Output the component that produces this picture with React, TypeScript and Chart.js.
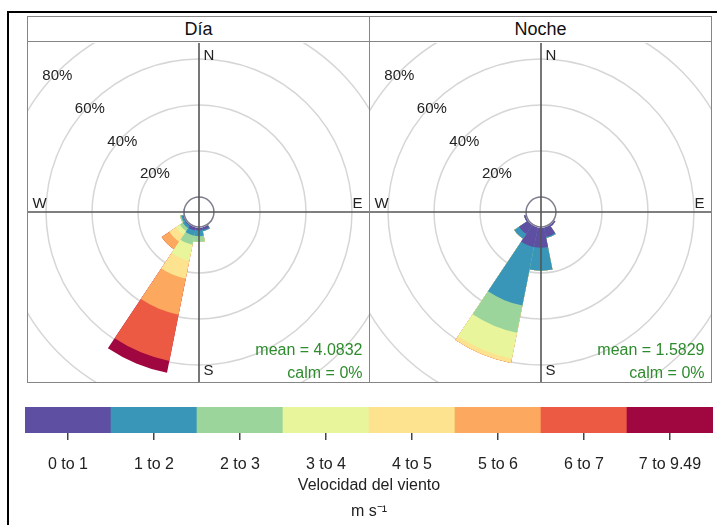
import React, { useEffect, useRef } from "react";
import { Chart, registerables } from "chart.js";

Chart.register(...registerables);

const FONT = '"Liberation Sans", Arial, Helvetica, sans-serif';

// 16 direction sectors of 22.5°, starting at North and going clockwise
const DIRECTION_LABELS = ["N", "NNE", "NE", "ENE", "E", "ESE", "SE", "SSE", "S", "SSW", "SW", "WSW", "W", "WNW", "NW", "NNW"];
const SECTOR_WIDTH = 22.5;

const SPEED_BINS = ["0 to 1", "1 to 2", "2 to 3", "3 to 4", "4 to 5", "5 to 6", "6 to 7", "7 to 9.49"];
const BIN_COLORS = ["#5E4FA2", "#3A96B8", "#9BD59B", "#E8F59B", "#FDE38F", "#FCA85F", "#EC5A44", "#A0063F"];
const COLORBAR_SEGMENTS = [1, 1, 1, 1, 1, 1, 1, 1];

const RING_TICKS = [20, 40, 60, 80];
const RING_LABELS = ["20%", "40%", "60%", "80%"];
const R_MIN = -6.5; // inner offset (calm circle)
const R_MAX = 84.8;

// ---- Día: frequency (%) per direction (N, NNE, ... NNW) for each speed bin
const dia_0to1 = [0, 0, 0, 0, 0, 0, 0.3, 1.5, 1.5, 1.7, 0.8, 0.6, 0.3, 0, 0, 0];
const dia_1to2 = [0, 0, 0, 0, 0, 0, 0, 0.5, 2.5, 2.3, 1.2, 0.8, 0, 0, 0, 0];
const dia_2to3 = [0, 0, 0, 0, 0, 0, 0, 0, 2.5, 4.0, 1.5, 0.5, 0, 0, 0, 0];
const dia_3to4 = [0, 0, 0, 0, 0, 0, 0, 0, 0, 7.0, 2.0, 0, 0, 0, 0, 0];
const dia_4to5 = [0, 0, 0, 0, 0, 0, 0, 0, 0, 8.0, 3.5, 0, 0, 0, 0, 0];
const dia_5to6 = [0, 0, 0, 0, 0, 0, 0, 0, 0, 16.0, 4.0, 0, 0, 0, 0, 0];
const dia_6to7 = [0, 0, 0, 0, 0, 0, 0, 0, 0, 20.5, 0, 0, 0, 0, 0, 0];
const dia_7to949 = [0, 0, 0, 0, 0, 0, 0, 0, 0, 5.3, 0, 0, 0, 0, 0, 0];
const DIA_MEAN = "mean = 4.0832";
const DIA_CALM = "calm = 0%";

// ---- Noche
const noche_0to1 = [0, 0, 0, 0, 0, 0, 1.0, 4.5, 9.0, 9.0, 5.0, 1.0, 0, 0, 0, 0];
const noche_1to2 = [0, 0, 0, 0, 0, 0, 0, 0.5, 10.0, 26.0, 2.5, 0, 0, 0, 0, 0];
const noche_2to3 = [0, 0, 0, 0, 0, 0, 0, 0, 0, 12.0, 0, 0, 0, 0, 0, 0];
const noche_3to4 = [0, 0, 0, 0, 0, 0, 0, 0, 0, 11.5, 0, 0, 0, 0, 0, 0];
const noche_4to5 = [0, 0, 0, 0, 0, 0, 0, 0, 0, 1.9, 0, 0, 0, 0, 0, 0];
const noche_5to6 = [0, 0, 0, 0, 0, 0, 0, 0, 0, 0, 0, 0, 0, 0, 0, 0];
const noche_6to7 = [0, 0, 0, 0, 0, 0, 0, 0, 0, 0, 0, 0, 0, 0, 0, 0];
const noche_7to949 = [0, 0, 0, 0, 0, 0, 0, 0, 0, 0, 0, 0, 0, 0, 0, 0];
const NOCHE_MEAN = "mean = 1.5829";
const NOCHE_CALM = "calm = 0%";

const DIA_BINS = [dia_0to1, dia_1to2, dia_2to3, dia_3to4, dia_4to5, dia_5to6, dia_6to7, dia_7to949];
const NOCHE_BINS = [noche_0to1, noche_1to2, noche_2to3, noche_3to4, noche_4to5, noche_5to6, noche_6to7, noche_7to949];

const ROSE_CANVAS = 420;

function Rose({ bins }: { bins: number[][] }) {
  const ref = useRef<HTMLCanvasElement>(null);
  useEffect(() => {
    const cum: number[][] = [];
    let run = DIRECTION_LABELS.map(() => 0);
    for (const b of bins) {
      run = run.map((v, i) => v + b[i]);
      cum.push(run);
    }
    const datasets: any[] = [
      {
        data: DIRECTION_LABELS.map(() => 0),
        backgroundColor: "#ffffff",
        borderColor: "#ffffff",
        borderWidth: 1.5,
        borderAlign: "center",
      },
      ...cum.map((c, k) => ({ data: c, backgroundColor: BIN_COLORS[k], borderWidth: 0 })),
    ];
    const overlay = {
      id: "roseOverlay",
      afterDatasetsDraw(chart: any) {
        const s = chart.scales.r;
        const ctx = chart.ctx as CanvasRenderingContext2D;
        const cx = s.xCenter;
        const cy = s.yCenter;
        ctx.save();
        ctx.strokeStyle = "#7c7c8c";
        ctx.lineWidth = 1.5;
        ctx.beginPath();
        ctx.arc(cx, cy, s.getDistanceFromCenterForValue(0), 0, Math.PI * 2);
        ctx.stroke();
        ctx.strokeStyle = "#555555";
        ctx.lineWidth = 1.6;
        ctx.beginPath();
        ctx.moveTo(0, cy);
        ctx.lineTo(chart.width, cy);
        ctx.moveTo(cx, 0);
        ctx.lineTo(cx, chart.height);
        ctx.stroke();
        ctx.fillStyle = "#222";
        ctx.font = `15px ${FONT}`;
        ctx.textAlign = "center";
        ctx.textBaseline = "middle";
        const a = (-3 * Math.PI) / 4;
        RING_TICKS.forEach((v, i) => {
          const d = s.getDistanceFromCenterForValue(v);
          ctx.fillText(RING_LABELS[i], cx + d * Math.cos(a) - 1, cy + d * Math.sin(a) + 5);
        });
        ctx.restore();
      },
    };
    const chart = new Chart(ref.current as HTMLCanvasElement, {
      type: "polarArea",
      data: { labels: DIRECTION_LABELS, datasets },
      options: {
        responsive: false,
        animation: false,
        events: [],
        plugins: { legend: { display: false }, tooltip: { enabled: false } },
        layout: { padding: 0 },
        scales: {
          r: {
            min: R_MIN,
            max: R_MAX,
            startAngle: -SECTOR_WIDTH / 2,
            ticks: { display: false },
            grid: { color: "#d6d6d6", lineWidth: 1.5, circular: true },
            angleLines: { display: false },
            pointLabels: { display: false },
            afterBuildTicks: (scale: any) => {
              scale.ticks = [R_MIN, ...RING_TICKS].map((v) => ({ value: v }));
            },
          },
        },
      } as any,
      plugins: [overlay],
    });
    return () => chart.destroy();
  }, [bins]);
  return (
    <canvas
      ref={ref}
      width={ROSE_CANVAS}
      height={ROSE_CANVAS}
      style={{ position: "absolute", left: -39.5, top: -41, width: ROSE_CANVAS, height: ROSE_CANVAS }}
    />
  );
}

const txt = (extra: React.CSSProperties): React.CSSProperties => ({
  position: "absolute",
  fontSize: 15,
  lineHeight: "16px",
  transform: "translateY(-50%)",
  whiteSpace: "nowrap",
  color: "#222",
  ...extra,
});

function Panel({ left, title, bins, mean, calm }: { left: number; title: string; bins: number[][]; mean: string; calm: string }) {
  return (
    <div
      style={{
        position: "absolute",
        left,
        top: 16,
        width: 343,
        height: 367,
        boxSizing: "border-box",
        border: "1.5px solid #858585",
      }}
    >
      <div
        style={{
          position: "absolute",
          left: 0,
          top: 0,
          right: 0,
          height: 24,
          borderBottom: "1.5px solid #858585",
          textAlign: "center",
          fontSize: 18,
          lineHeight: "25px",
          color: "#111",
        }}
      >
        {title}
      </div>
      <div style={{ position: "absolute", left: 0, top: 25.5, right: 0, bottom: 0, overflow: "hidden" }}>
        <Rose bins={bins} />
        <div style={txt({ left: 175.5, top: 12 })}>N</div>
        <div style={txt({ left: 4.5, top: 160 })}>W</div>
        <div style={txt({ right: 6.5, top: 160 })}>E</div>
        <div style={txt({ left: 175.5, top: 327 })}>S</div>
        <div style={txt({ right: 6.5, top: 307, color: "#2E8B2E", fontSize: 16 })}>{mean}</div>
        <div style={txt({ right: 6.5, top: 330, color: "#2E8B2E", fontSize: 16 })}>{calm}</div>
      </div>
    </div>
  );
}

const COLORBAR_AXIS_HEIGHT = 92;

function ColorBar() {
  const ref = useRef<HTMLCanvasElement>(null);
  useEffect(() => {
    const chart = new Chart(ref.current as HTMLCanvasElement, {
      type: "bar",
      data: {
        labels: SPEED_BINS,
        datasets: [
          {
            data: COLORBAR_SEGMENTS,
            backgroundColor: BIN_COLORS,
            borderWidth: 0,
            barPercentage: 1,
            categoryPercentage: 1,
          },
        ],
      },
      options: {
        responsive: false,
        animation: false,
        events: [],
        plugins: { legend: { display: false }, tooltip: { enabled: false } },
        layout: { padding: 0 },
        scales: {
          x: {
            offset: true,
            afterFit: (scale: any) => {
              scale.height = COLORBAR_AXIS_HEIGHT;
              scale.paddingLeft = 0;
              scale.paddingRight = 0;
            },
            grid: {
              display: true,
              drawOnChartArea: false,
              drawTicks: true,
              tickLength: 7,
              offset: false,
              color: "#444",
              lineWidth: 1.5,
            },
            border: { display: false },
            ticks: {
              color: "#222",
              font: { family: FONT, size: 16, lineHeight: 1 },
              padding: 17,
              maxRotation: 0,
              autoSkip: false,
            },
            title: {
              display: true,
              text: ["Velocidad del viento", "m s\u207B\u00B9"],
              color: "#222",
              font: { family: FONT, size: 16, lineHeight: 1.625 },
              padding: { top: 0, bottom: 0 },
            },
          },
          y: { display: false, min: 0, max: 1 },
        },
      } as any,
    });
    return () => chart.destroy();
  }, []);
  return (
    <canvas
      ref={ref}
      width={688}
      height={118}
      style={{ position: "absolute", left: 25, top: 407, width: 688, height: 118 }}
    />
  );
}

export default function App() {
  return (
    <div
      style={{
        position: "absolute",
        left: 0,
        top: 0,
        width: 717,
        height: 525,
        overflow: "hidden",
        background: "#fff",
        fontFamily: FONT,
      }}
    >
      <div
        style={{
          position: "absolute",
          left: 7,
          top: 11,
          width: 730,
          height: 530,
          borderLeft: "2px solid #000",
          borderTop: "2px solid #000",
        }}
      />
      <Panel left={27} title="Día" bins={DIA_BINS} mean={DIA_MEAN} calm={DIA_CALM} />
      <Panel left={369} title="Noche" bins={NOCHE_BINS} mean={NOCHE_MEAN} calm={NOCHE_CALM} />
      <ColorBar />
    </div>
  );
}
